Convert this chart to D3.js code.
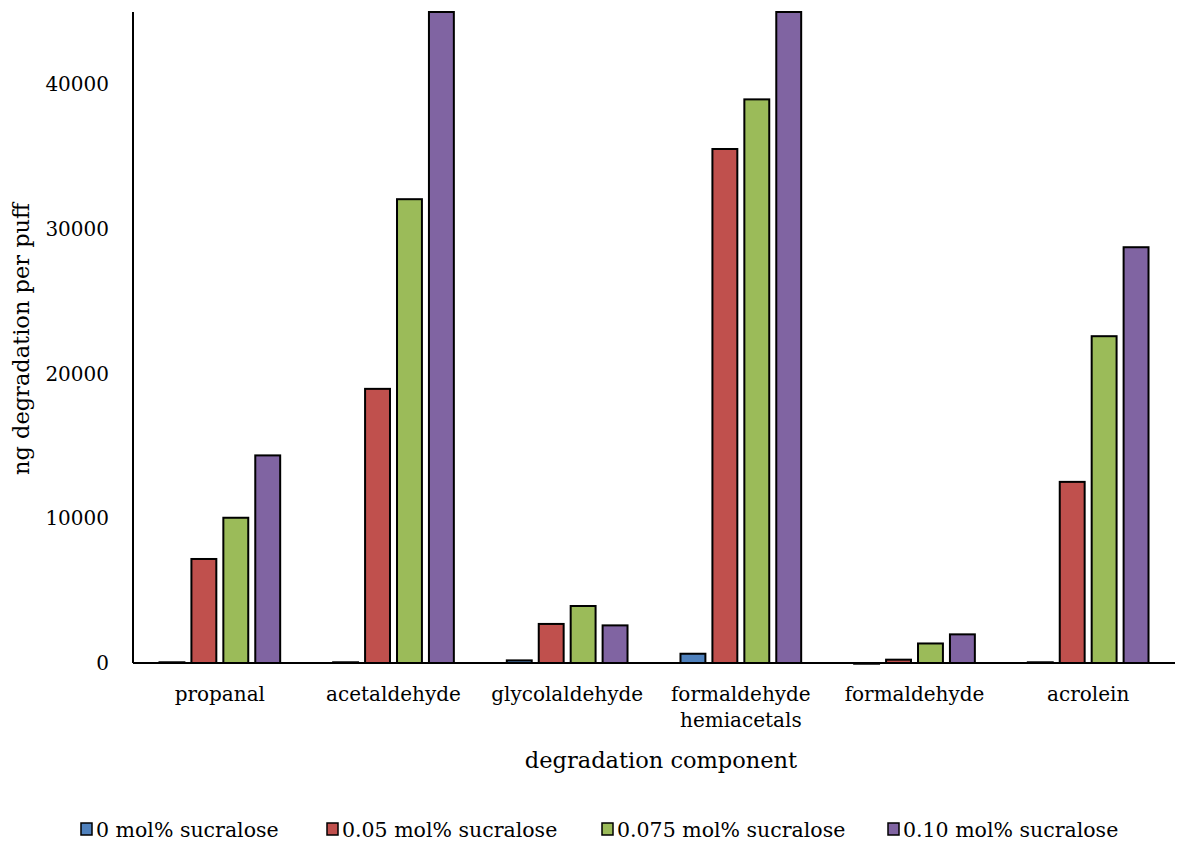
<!DOCTYPE html>
<html><head><meta charset="utf-8">
<script src="https://cdn.jsdelivr.net/npm/d3@7"></script>
<style>
body{margin:0;background:#fff;}
text{font-family:"DejaVu Serif","Liberation Serif",serif;fill:#000;}
</style></head>
<body><svg id="c" width="1177" height="841"></svg>
<script>
const categories = ["propanal","acetaldehyde","glycolaldehyde","formaldehyde\nhemiacetals","formaldehyde","acrolein"];
const seriesNames = ["0 mol% sucralose","0.05 mol% sucralose","0.075 mol% sucralose","0.10 mol% sucralose"];
const s0 = [50, 50, 180, 640, -50, 50];
const s005 = [7190, 18950, 2700, 35530, 230, 12520];
const s0075 = [10040, 32060, 3940, 38960, 1350, 22590];
const s010 = [14350, 45000, 2600, 45000, 1980, 28740];
const yTicks = [0, 10000, 20000, 30000, 40000];
const colors = ["#4F81BD","#C0504D","#9BBB59","#8064A2"];
const seriesValues = [s0, s005, s0075, s010];

const svg = d3.select("#c");
const L = 133, R = 1175, T = 12, B = 663;
const y = d3.scaleLinear().domain([0, 45000]).range([B, T]);
const x0 = d3.scaleBand().domain(categories).range([L, R]).paddingInner(0.305).paddingOuter(0.1525);
const x1 = d3.scaleBand().domain(seriesNames).range([0, x0.bandwidth()]).paddingInner(0.22);

const data = [];
categories.forEach((c, i) => seriesNames.forEach((s, j) => data.push({c, s, j, v: seriesValues[j][i]})));

svg.append("g").selectAll("rect").data(data).join("rect")
  .attr("x", d => x0(d.c) + x1(d.s))
  .attr("y", d => y(Math.min(Math.max(d.v, 0), 45000)))
  .attr("width", x1.bandwidth())
  .attr("height", d => Math.abs(y(Math.min(d.v, 45000)) - y(0)))
  .attr("fill", d => colors[d.j])
  .attr("stroke", "#000").attr("stroke-width", 2);

// y axis
const ya = svg.append("g").attr("transform", `translate(${L},0)`)
  .call(d3.axisLeft(y).tickValues(yTicks).tickSize(0).tickPadding(24).tickFormat(d3.format("d")));
ya.select(".domain").attr("stroke", "#000").attr("stroke-width", 2).attr("d", `M0,${T}V${B}`);
ya.selectAll("text").style("font-size", "20px").style("font-family", "DejaVu Serif, serif");

// x axis
const xa = svg.append("g").attr("transform", `translate(0,${B})`)
  .call(d3.axisBottom(x0).tickSize(0).tickFormat(""));
xa.select(".domain").attr("stroke", "#000").attr("stroke-width", 2).attr("d", `M${L},0H${R}`);
xa.selectAll(".tick").each(function(d) {
  const t = d3.select(this).append("text").attr("text-anchor", "middle").style("font-size", "20px");
  d.split("\n").forEach((line, k) => t.append("tspan").attr("x", 0).attr("y", 38 + k * 26).text(line));
});

// titles
svg.append("text").attr("x", 661).attr("y", 768).attr("text-anchor", "middle").style("font-size", "22.5px").text("degradation component");
svg.append("text").attr("transform", "translate(29,339) rotate(-90)").attr("text-anchor", "middle").style("font-size", "22.5px").text("ng degradation per puff");

// legend
const legX = [81, 327, 602, 888];
const lg = svg.append("g").selectAll("g").data(seriesNames).join("g")
  .attr("transform", (d, i) => `translate(${legX[i]},829)`);
lg.append("rect").attr("x", 0).attr("y", -6).attr("width", 11).attr("height", 12)
  .attr("fill", (d, i) => colors[i]).attr("stroke", "#000").attr("stroke-width", 1.5);
lg.append("text").attr("x", 15).attr("y", 8).style("font-size", "20.5px").text(d => d);
</script></body></html>
